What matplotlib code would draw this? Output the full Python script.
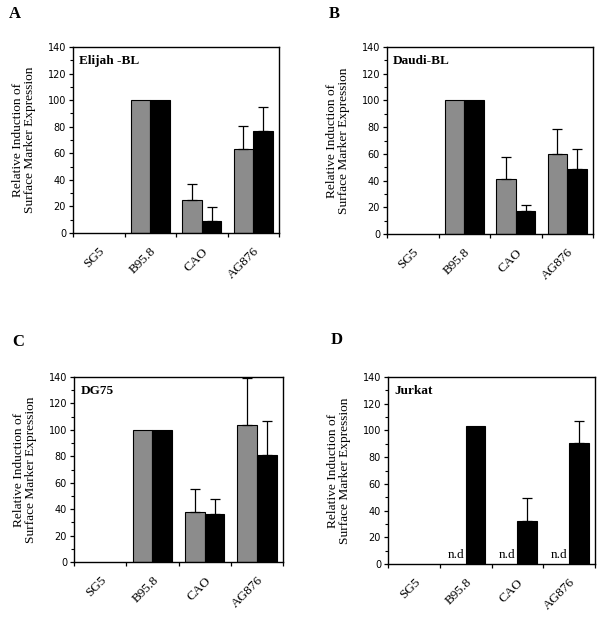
import numpy as np
import matplotlib.pyplot as plt
import matplotlib.transforms as mtransforms
from matplotlib.ticker import MultipleLocator, FixedLocator, NullFormatter

# categories (virus strains)
strains = ["SG5", "B95.8", "CAO", "AG876"]

# panel A - Elijah-BL
elijah_grey = [0, 100, 24.8, 63.4]
elijah_grey_err = [0, 0, 11.8, 17.5]
elijah_black = [0, 100, 8.8, 77]
elijah_black_err = [0, 0, 11, 18.2]

# panel B - Daudi-BL
daudi_grey = [0, 100, 41.2, 60]
daudi_grey_err = [0, 0, 16.3, 18.5]
daudi_black = [0, 100, 17.5, 48.5]
daudi_black_err = [0, 0, 4, 14.8]

# panel C - DG75
dg75_grey = [0, 100, 38.2, 103.4]
dg75_grey_err = [0, 0, 16.8, 36]
dg75_black = [0, 100, 36, 81]
dg75_black_err = [0, 0, 11.4, 26]

# panel D - Jurkat (grey not determined)
jurkat_grey = [None, None, None, None]
jurkat_black = [0, 103.4, 32.4, 90.9]
jurkat_black_err = [0, 0, 16.9, 16.2]
nd_label = ["", "n.d", "n.d", "n.d"]

panels = [
    ("A", "Elijah -BL", elijah_grey, elijah_grey_err, elijah_black, elijah_black_err),
    ("B", "Daudi-BL", daudi_grey, daudi_grey_err, daudi_black, daudi_black_err),
    ("C", "DG75", dg75_grey, dg75_grey_err, dg75_black, dg75_black_err),
    ("D", "Jurkat", jurkat_grey, None, jurkat_black, jurkat_black_err),
]

# axes boxes in pixels: left, top, right, bottom
boxes = [(73, 47, 279, 233), (387, 47, 593, 234),
         (74, 377, 283, 562), (388, 377, 595, 564)]
letter_pos = [(9, 18), (329, 18), (12, 346), (331, 344)]

W, H = 603, 617
fig = plt.figure(figsize=(W / 100, H / 100), dpi=100)

serif = "Liberation Serif"
grey = "#8c8c8c"
bw = 0.38


def draw_bars(ax, xpos, vals, errs, color):
    vals = np.array(vals, dtype=float)
    errs = np.array(errs, dtype=float)
    keep = vals > 0
    ax.bar(xpos[keep], vals[keep], bw, color=color, edgecolor="black", linewidth=0.8)
    has_err = keep & (errs > 0)
    ax.errorbar(xpos[has_err], vals[has_err],
                yerr=[np.zeros(has_err.sum()), errs[has_err]], fmt="none",
                ecolor="black", elinewidth=0.9, capsize=3.6, capthick=0.9)


for (letter, title, g, ge, b, be), (l, t, r, bt), (lx, ly) in zip(panels, boxes, letter_pos):
    ax = fig.add_axes([l / W, 1 - bt / H, (r - l) / W, (bt - t) / H])
    x = np.arange(len(strains)) + 0.5
    if g[0] is not None:
        draw_bars(ax, x - bw / 2, g, ge, grey)
    else:
        for xi, lab in zip(x, nd_label):
            ax.text(xi - bw / 2, 2, lab, ha="center", va="bottom",
                    fontsize=9.5, family=serif)
    draw_bars(ax, x + bw / 2, b, be, "black")

    ax.set_xlim(0, 4)
    ax.set_ylim(0, 140)
    ax.yaxis.set_major_locator(MultipleLocator(20))
    ax.yaxis.set_minor_locator(MultipleLocator(10))
    ax.xaxis.set_major_locator(FixedLocator([0, 1, 2, 3, 4]))
    ax.xaxis.set_major_formatter(NullFormatter())
    ax.xaxis.set_minor_locator(FixedLocator(x))
    ax.set_xticklabels(strains, minor=True, rotation=45, ha="right",
                       rotation_mode="anchor", family=serif, fontsize=9.5)
    shift = mtransforms.ScaledTranslation(-5 / 72, 0, fig.dpi_scale_trans)
    for lab in ax.get_xticklabels(minor=True):
        lab.set_transform(lab.get_transform() + shift)
    ax.tick_params(axis="x", which="minor", length=0, pad=9)
    ax.tick_params(axis="x", which="major", length=3, width=0.9, direction="out")
    ax.tick_params(axis="y", which="major", length=3, width=0.9, labelsize=7, pad=2)
    ax.tick_params(axis="y", which="minor", length=2, width=0.8)
    for s in ax.spines.values():
        s.set_linewidth(1.0)
    ax.set_ylabel("Relative Induction of\nSurface Marker Expression",
                  family=serif, fontsize=9.6, labelpad=8, linespacing=1.0)
    ax.text(0.03, 0.955, title, transform=ax.transAxes, ha="left", va="top",
            family=serif, fontweight="bold", fontsize=9.5)
    fig.text(lx / W, 1 - ly / H, letter, family=serif, fontweight="bold",
             fontsize=12, ha="left", va="baseline")

fig.savefig("out.png", dpi=100)
